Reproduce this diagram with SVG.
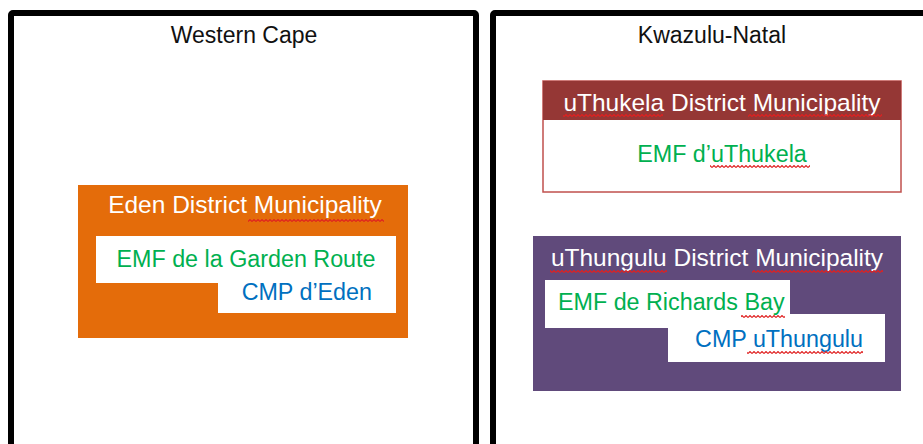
<svg xmlns="http://www.w3.org/2000/svg" width="923" height="444" viewBox="0 0 923 444">
<style>
text{font-family:"Liberation Sans",Arial,sans-serif}
.prov{font-size:23px;fill:#111;text-anchor:middle}
.hdr{font-size:24.5px;fill:#fff;text-anchor:middle}
.emf{font-size:23.3px;fill:#00B050}
.cmp{font-size:23.3px;fill:#0070C0}
.frame{fill:none;stroke:#000;stroke-width:6}
.sq{fill:url(#squig)}
</style>
<defs>
<pattern id="squig" patternUnits="userSpaceOnUse" x="0" y="0" width="4" height="3">
<path d="M0,2.5 L2,0.5 L4,2.5" fill="none" stroke="#e02020" stroke-width="1.1"/>
</pattern>
</defs>
<rect width="923" height="444" fill="#fff"/>
<g id="western-cape">
<rect class="frame" x="11" y="13" width="465" height="460" rx="2"/>
<text class="prov" x="244" y="43">Western Cape</text>
</g>
<g id="kwazulu-natal">
<rect class="frame" x="493" y="13" width="480" height="460" rx="2"/>
<text class="prov" x="712" y="43">Kwazulu-Natal</text>
</g>
<g id="eden">
<rect x="78" y="185" width="330" height="153" fill="#E46C0A"/>
<text class="hdr" x="245" y="213">Eden District Municipality</text>
<rect class="sq" x="248" y="219" width="136" height="3"/>
<polygon points="96,236 396,236 396,313 218,313 218,283 96,283" fill="#fff"/>
<text class="emf" x="246" y="267" text-anchor="middle">EMF de la Garden Route</text>
<text class="cmp" x="372" y="300" text-anchor="end">CMP d’Eden</text>
</g>
<g id="uthukela">
<rect x="543" y="81" width="358" height="111" fill="#fff" stroke="#C0504D" stroke-width="1.5"/>
<rect x="543" y="81" width="358" height="39" fill="#953735"/>
<text class="hdr" x="722" y="111">uThukela District Municipality</text>
<rect class="sq" x="563" y="114" width="100" height="3"/>
<rect class="sq" x="748" y="114" width="134" height="3"/>
<text class="emf" x="722" y="162" text-anchor="middle">EMF d’uThukela</text>
<rect class="sq" x="710" y="165" width="100" height="3"/>
</g>
<g id="uthungulu">
<rect x="533" y="236" width="368" height="155" fill="#604A7B"/>
<text class="hdr" x="717" y="266">uThungulu District Municipality</text>
<rect class="sq" x="550" y="270" width="117" height="3"/>
<rect class="sq" x="752" y="270" width="131" height="3"/>
<polygon points="545,280 790,280 790,314 885,314 885,362 668,362 668,328 545,328" fill="#fff"/>
<text class="emf" x="558" y="310">EMF de Richards Bay</text>
<rect class="sq" x="741" y="315" width="44" height="3"/>
<text class="cmp" x="863" y="347" text-anchor="end">CMP uThungulu</text>
<rect class="sq" x="747" y="351" width="116" height="3"/>
</g>
<g id="connectors"></g>
</svg>
